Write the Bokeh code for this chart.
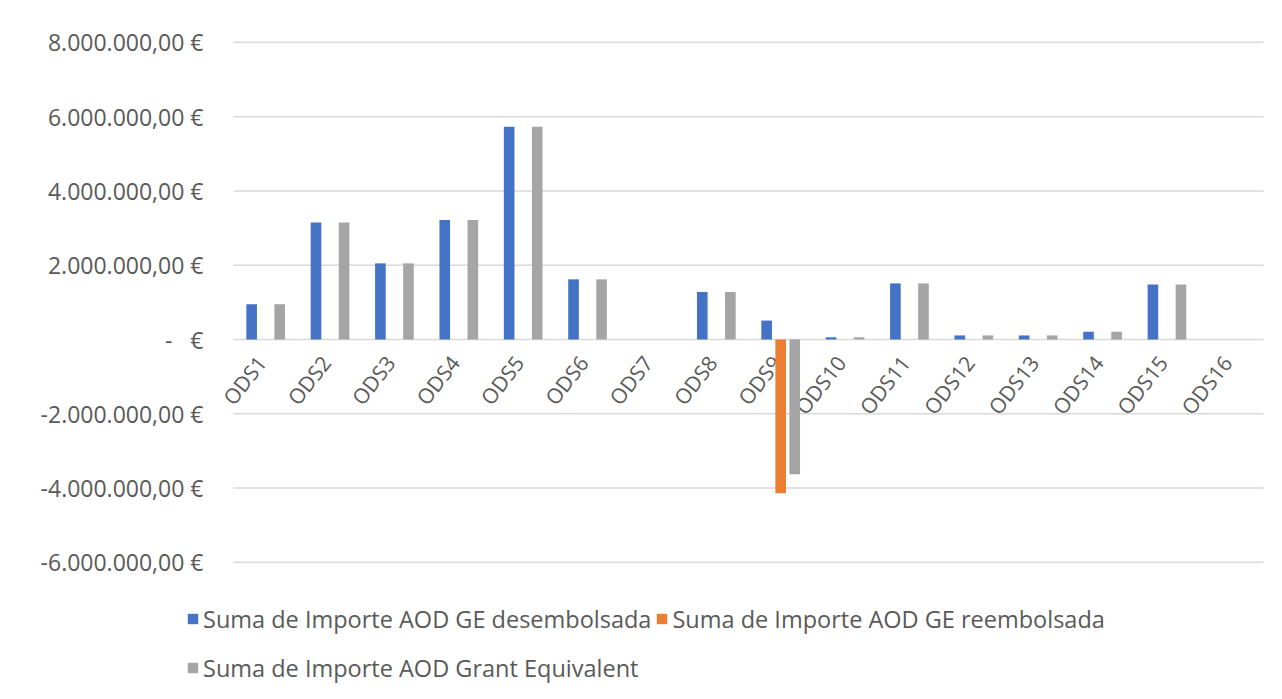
import math
from bokeh.plotting import figure
from bokeh.models import ColumnDataSource, FixedTicker, Legend, LegendItem, Range1d
from bokeh.core.properties import value
from bokeh.embed import file_html
from bokeh.resources import INLINE

categories = ["ODS1", "ODS2", "ODS3", "ODS4", "ODS5", "ODS6", "ODS7", "ODS8",
              "ODS9", "ODS10", "ODS11", "ODS12", "ODS13", "ODS14", "ODS15", "ODS16"]
desembolsada = [950000, 3150000, 2050000, 3220000, 5730000, 1620000, 0, 1280000,
                510000, 60000, 1510000, 110000, 110000, 210000, 1480000, 0]
reembolsada = [0, 0, 0, 0, 0, 0, 0, 0,
               -4140000, 0, 0, 0, 0, 0, 0, 0]
grant_equivalent = [950000, 3150000, 2050000, 3220000, 5730000, 1620000, 0, 1280000,
                    -3630000, 60000, 1510000, 110000, 110000, 210000, 1480000, 0]
series_names = ["Suma de Importe AOD GE desembolsada",
                "Suma de Importe AOD GE reembolsada",
                "Suma de Importe AOD Grant Equivalent"]
y_ticks = [-6000000, -4000000, -2000000, 0, 2000000, 4000000, 6000000, 8000000]
y_tick_labels = ["-6.000.000,00 €", "-4.000.000,00 €", "-2.000.000,00 €", "-\u00a0\u00a0\u00a0€",
                 "2.000.000,00 €", "4.000.000,00 €", "6.000.000,00 €", "8.000.000,00 €"]

colors = ["#4472C4", "#ED7D31", "#A5A5A5"]
FONT = "Open Sans"
TXT = "#595959"

n = len(categories)
centers = [i + 0.5 for i in range(n)]
off, bw = 0.218, 0.165

source = ColumnDataSource(dict(cat=categories, xc=centers,
                               xa=[c - off for c in centers], xb=centers,
                               xg=[c + off for c in centers],
                               a=desembolsada, b=reembolsada, c=grant_equivalent,
                               zero=[0] * n))

p = figure(x_range=Range1d(-0.730, 16.264), y_range=Range1d(-9638000, 9127000),
           width=1280, height=697, output_backend="svg", toolbar_location=None,
           min_border_left=186, min_border_right=0, min_border_top=0, min_border_bottom=0)
p.outline_line_color = None
p.background_fill_color = "white"
p.border_fill_color = "white"
p.xaxis.visible = False
p.grid.visible = False

# horizontal gridlines spanning the category area
p.segment(x0=[0] * len(y_ticks), x1=[n] * len(y_ticks), y0=y_ticks, y1=y_ticks,
          line_color="#D9D9D9", line_width=1.5)

# category labels along the zero line
p.text(x="xc", y="zero", text="cat", source=source, angle=52, angle_units="deg",
       text_align="right", text_baseline="middle", x_offset=-4, y_offset=19,
       text_font=value(FONT), text_font_size="21px", text_color=TXT)

r1 = p.vbar(x="xa", top="a", bottom=0, width=bw, source=source,
            fill_color=colors[0], line_color=None)
r2 = p.vbar(x="xb", top="b", bottom=0, width=bw, source=source,
            fill_color=colors[1], line_color=None)
r3 = p.vbar(x="xg", top="c", bottom=0, width=bw, source=source,
            fill_color=colors[2], line_color=None)

yaxis = p.yaxis[0]
yaxis.ticker = FixedTicker(ticks=y_ticks)
yaxis.major_label_overrides = {t: l for t, l in zip(y_ticks, y_tick_labels)}
yaxis.axis_line_color = None
yaxis.major_tick_line_color = None
yaxis.minor_tick_line_color = None
yaxis.major_tick_out = 0
yaxis.major_tick_in = 0
yaxis.major_label_standoff = -17
yaxis.major_label_text_font = FONT
yaxis.major_label_text_font_size = "23px"
yaxis.major_label_text_color = TXT

legend = Legend(items=[LegendItem(label=series_names[0], renderers=[r1]),
                       LegendItem(label=series_names[1], renderers=[r2]),
                       LegendItem(label=series_names[2], renderers=[r3])],
                ncols=2, orientation="horizontal", location=(0, 7))
legend.glyph_width = 13
legend.glyph_height = 13
legend.label_standoff = 4
legend.label_height = 45
legend.spacing = 4
legend.padding = 0
legend.margin = 0
legend.border_line_color = None
legend.background_fill_alpha = 0
legend.label_text_font = FONT
legend.label_text_font_size = "23.5px"
legend.label_text_color = TXT
legend.label_text_baseline = "middle"
p.add_layout(legend, "center")

open("out.html", "w").write(file_html(p, INLINE))
